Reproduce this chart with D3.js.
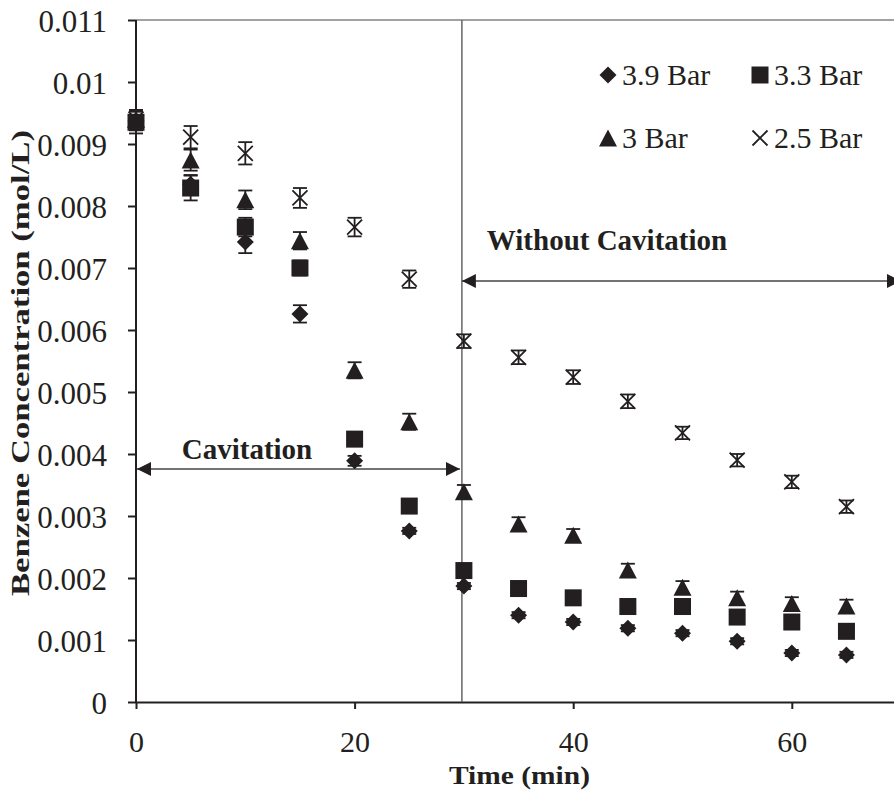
<!DOCTYPE html>
<html><head><meta charset="utf-8">
<script src="https://cdn.jsdelivr.net/npm/d3@7"></script>
<style>
html,body{margin:0;padding:0;background:#fff;overflow:hidden}
svg text{font-family:"Liberation Serif","Times New Roman",serif;fill:#231f20}
</style></head>
<body>
<svg id="c" width="894" height="790"></svg>
<script>
// ---- data ----
const times = [0,5,10,15,20,25,30,35,40,45,50,55,60,65];
const seriesNames = ["3.9 Bar","3.3 Bar","3 Bar","2.5 Bar"];
const bar39 = [0.00937,0.00835,0.00742,0.00626,0.00389,0.00276,0.00187,0.00140,0.00129,0.00119,0.00111,0.00098,0.00079,0.00076];
const bar33 = [0.00935,0.00829,0.00766,0.00700,0.00424,0.00316,0.00212,0.00183,0.00168,0.00154,0.00154,0.00137,0.00129,0.00114];
const bar30 = [0.00940,0.00874,0.00810,0.00744,0.00535,0.00452,0.00339,0.00287,0.00269,0.00213,0.00185,0.00168,0.00159,0.00155];
const bar25 = [0.00940,0.00911,0.00885,0.00813,0.00766,0.00682,0.00582,0.00556,0.00524,0.00485,0.00434,0.00390,0.00355,0.00315];
const err39 = [0.00015,0.00015,0.00018,0.00014,0.00008,0.00005,0.00005,0.00005,0.00005,0.00005,0.00005,0.00005,0.00005,0.00005];
const err33 = [0.00018,0.00020,0.00015,0.00012,0.00005,0.00005,0.00005,0.00005,0.00005,0.00005,0.00005,0.00005,0.00005,0.00005];
const err30 = [0.00015,0.00017,0.00015,0.00014,0.00013,0.00013,0.00011,0.00011,0.00010,0.00010,0.00010,0.00010,0.00010,0.00010];
const err25 = [0.00015,0.00018,0.00018,0.00016,0.00015,0.00014,0.00011,0.00011,0.00011,0.00011,0.00010,0.00010,0.00010,0.00010];
const yTicks = [0,0.001,0.002,0.003,0.004,0.005,0.006,0.007,0.008,0.009,0.01,0.011];
const yTickLabels = ["0","0.001","0.002","0.003","0.004","0.005","0.006","0.007","0.008","0.009","0.01","0.011"];
const xTicks = [0,20,40,60];
const xTickLabels = ["0","20","40","60"];
const cavitationStart = 0, switchTime = 30, endTime = 69.9;

// ---- layout ----
const ink = "#231f20";
const svg = d3.select("#c");
const x = d3.scaleLinear().domain([0,80]).range([136, 136 + 80*10.93]);
const y = d3.scaleLinear().domain([0,0.011]).range([702,20]);

// top border
svg.append("line").attr("x1",136).attr("x2",894).attr("y1",y(0.011)).attr("y2",y(0.011))
  .attr("stroke","#444").attr("stroke-width",1.2);

// axes
const yAxis = d3.axisLeft(y).tickValues(yTicks).tickFormat((d,i)=>yTickLabels[i]).tickSizeInner(8).tickSizeOuter(0).tickPadding(21);
const gy = svg.append("g").attr("transform",`translate(${x(0)},0)`).call(yAxis);
gy.select(".domain").attr("d",`M0,${y(0)}V${y(0.011)}`);
gy.selectAll("path,line").attr("stroke",ink).attr("stroke-width",2);
gy.selectAll("text").attr("font-size",31).attr("fill",ink).attr("dy","0.36em");

const xAxis = d3.axisBottom(x).tickValues(xTicks).tickFormat((d,i)=>xTickLabels[i]).tickSizeInner(7).tickSizeOuter(0).tickPadding(22);
const gx = svg.append("g").attr("transform",`translate(0,${y(0)})`).call(xAxis);
gx.selectAll("path,line").attr("stroke",ink).attr("stroke-width",2);
gx.selectAll("text").attr("font-size",30).attr("fill",ink);

// axis titles
svg.append("text").attr("transform",`translate(29,${(130+596)/2}) rotate(-90)`)
  .attr("text-anchor","middle").attr("font-weight","bold").attr("font-size",25)
  .attr("textLength",466).attr("lengthAdjust","spacingAndGlyphs")
  .text("Benzene Concentration (mol/L)");
svg.append("text").attr("x",(449+590)/2).attr("y",784)
  .attr("text-anchor","middle").attr("font-weight","bold").attr("font-size",26)
  .attr("textLength",141).attr("lengthAdjust","spacingAndGlyphs")
  .text("Time (min)");

// vertical separator line
svg.append("line").attr("x1",x(switchTime)-2).attr("x2",x(switchTime)-2).attr("y1",y(0.011)).attr("y2",y(0))
  .attr("stroke","#666").attr("stroke-width",1.5);

// arrows
const defs = svg.append("defs");
defs.append("marker").attr("id","ah").attr("viewBox","0 0 14 14").attr("refX",14).attr("refY",7)
  .attr("markerWidth",14).attr("markerHeight",14).attr("markerUnits","userSpaceOnUse").attr("orient","auto-start-reverse")
  .append("path").attr("d","M0,0 L14,7 L0,14 Z").attr("fill",ink);
function dblArrow(x1,x2,yy){
  svg.append("line").attr("x1",x1).attr("x2",x2).attr("y1",yy).attr("y2",yy)
    .attr("stroke","#444").attr("stroke-width",1.6)
    .attr("marker-start","url(#ah)").attr("marker-end","url(#ah)");
}
dblArrow(x(cavitationStart)+1, x(switchTime)-4, 469);
dblArrow(x(switchTime)-2, x(endTime)+1, 281);
svg.append("text").attr("x",247).attr("y",459).attr("text-anchor","middle")
  .attr("font-weight","bold").attr("font-size",29).text("Cavitation");
svg.append("text").attr("x",607).attr("y",250).attr("text-anchor","middle")
  .attr("font-weight","bold").attr("font-size",29).text("Without Cavitation");

// symbols
const symDiamond = (g,s)=> g.append("path").attr("d",`M0,${-s/2} L${s/2},0 L0,${s/2} L${-s/2},0 Z`).attr("fill",ink);
const symSquare = (g,s)=> g.append("rect").attr("x",-s/2).attr("y",-s/2).attr("width",s).attr("height",s).attr("fill",ink);
const symTri = (g,s)=> g.append("path").attr("d",`M0,${-s/2} L${s/2+0.5},${s/2} L${-s/2-0.5},${s/2} Z`).attr("fill",ink);
const symX = (g,s)=> g.append("path").attr("d",`M${-s/2},${-s/2} L${s/2},${s/2} M${s/2},${-s/2} L${-s/2},${s/2}`).attr("stroke",ink).attr("stroke-width",1.8).attr("fill","none");
const series = [
  {vals:bar39, errs:err39, sym:symDiamond, size:17},
  {vals:bar33, errs:err33, sym:symSquare, size:17},
  {vals:bar30, errs:err30, sym:symTri, size:17},
  {vals:bar25, errs:err25, sym:symX, size:15}
];
const plot = svg.append("g");
series.forEach(s=>{
  const g = plot.append("g");
  times.forEach((t,i)=>{
    const cx = x(t), cy = y(s.vals[i]), e = s.errs[i];
    const eg = g.append("g").attr("stroke",ink).attr("stroke-width",1.8);
    eg.append("line").attr("x1",cx).attr("x2",cx).attr("y1",y(s.vals[i]+e)).attr("y2",y(s.vals[i]-e));
    eg.append("line").attr("x1",cx-7).attr("x2",cx+7).attr("y1",y(s.vals[i]+e)).attr("y2",y(s.vals[i]+e));
    eg.append("line").attr("x1",cx-7).attr("x2",cx+7).attr("y1",y(s.vals[i]-e)).attr("y2",y(s.vals[i]-e));
    const mg = g.append("g").attr("transform",`translate(${cx},${cy})`);
    s.sym(mg, s.size);
  });
});

// legend
const legendPos = [[608,75],[760,75],[608,138],[760,138]];
series.forEach((s,i)=>{
  const [lx,ly] = legendPos[i];
  const mg = svg.append("g").attr("transform",`translate(${lx},${ly})`);
  s.sym(mg, s.size);
  svg.append("text").attr("x",lx+14).attr("y",ly+10).attr("font-size",30).text(seriesNames[i]);
});
</script>
</body></html>
